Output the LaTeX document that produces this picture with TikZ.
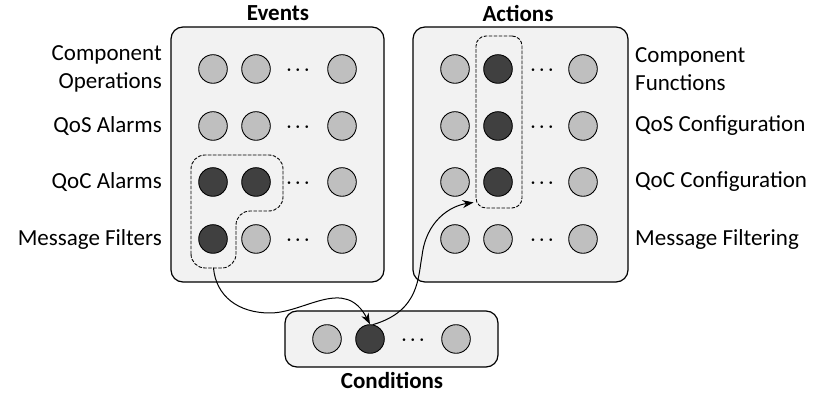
\documentclass[tikz,border=0pt]{standalone}
\usepackage{fontspec}
\setmainfont{Carlito}
\usetikzlibrary{arrows.meta}
\definecolor{boxgray}{HTML}{F2F2F2}
\definecolor{lightdot}{HTML}{BFBFBF}
\definecolor{darkdot}{HTML}{404040}
\begin{document}
\begin{tikzpicture}[x=1pt, y=1pt, line join=round, line cap=round, >={Stealth[length=11pt,width=8pt]},
		font=\fontsize{23}{28}\selectfont,
		panel/.style={draw, rounded corners=12pt, fill=boxgray, line width=1.2pt},
		ball/.style={draw, circle, minimum size=28.6pt, inner sep=0pt, line width=0.9pt},
		dots/.style={inner sep=0pt, yshift=-1.5pt, font=\fontsize{18}{22}\selectfont\boldmath},
		lab/.style={inner sep=0pt, align=left},
		pick/.style={draw, dashed, dash pattern=on 3pt off 2pt, line width=0.9pt, rounded corners=12pt}]
	\useasboundingbox (0,0) rectangle (816,396);
	% the three boxes
	\node[panel, minimum width=213pt, minimum height=255pt] (events) at (277.5,241.5) {};
	\node[panel, minimum width=215pt, minimum height=255pt] (actions) at (520.5,241.5) {};
	\node[panel, minimum width=213pt, minimum height=56pt] (conds) at (391.5,57) {};
	\node[font=\fontsize{23}{28}\selectfont\bfseries] (evtitle) at (278,382.5) {Events};
	\node[font=\fontsize{23}{28}\selectfont\bfseries] (actitle) at (518,382.5) {Actions};
	\node[font=\fontsize{23}{28}\selectfont\bfseries] (cotitle) at (392,15.5) {Conditions};
	% events
	\foreach \r/\yy/\fa/\fb in {1/327/lightdot/lightdot, 2/270/lightdot/lightdot, 3/214/darkdot/darkdot, 4/157/darkdot/lightdot} {
		\node[ball, fill=\fa] (ev\r a) at (213,\yy) {};
		\node[ball, fill=\fb] (ev\r b) at (256,\yy) {};
		\node[dots] (ev\r d) at (298,\yy) {$\cdots$};
		\node[ball, fill=lightdot] (ev\r c) at (342,\yy) {};
	}
	% actions
	\foreach \r/\yy/\fb in {1/327/darkdot, 2/270/darkdot, 3/214/darkdot, 4/157/lightdot} {
		\node[ball, fill=lightdot] (ac\r a) at (455,\yy) {};
		\node[ball, fill=\fb] (ac\r b) at (498,\yy) {};
		\node[dots] (ac\r d) at (542,\yy) {$\cdots$};
		\node[ball, fill=lightdot] (ac\r c) at (583,\yy) {};
	}
	% conditions
	\node[ball, fill=lightdot] (co1) at (327,57) {};
	\node[ball, fill=darkdot] (co2) at (370,57) {};
	\node[dots] (cod) at (413,57) {$\cdots$};
	\node[ball, fill=lightdot] (co3) at (456,57) {};
	% labels
	\node[lab, anchor=east, align=right] (evlab1) at (162,327) {Component\\Operations};
	\node[lab, anchor=east] (evlab2) at (162,270) {QoS Alarms};
	\node[lab, anchor=east] (evlab3) at (162,214) {QoC Alarms};
	\node[lab, anchor=east] (evlab4) at (162,157) {Message Filters};
	\node[lab, anchor=west] (aclab1) at (635,327) {Component\\Functions};
	\node[lab, anchor=west] (aclab2) at (635,270) {QoS Configuration};
	\node[lab, anchor=west] (aclab3) at (635,214) {QoC Configuration};
	\node[lab, anchor=west] (aclab4) at (635,157) {Message Filtering};
	% selections
	\draw[pick, rounded corners=14pt] (191,128) -- (191,241) -- (283,241) -- (283,185) -- (236,185) -- (236,128) -- cycle;
	\coordinate (lbot) at (213.5,128);
	\node[pick, rounded corners=10pt, minimum width=46pt, minimum height=172pt] (sel) at (499,274) {};
	% links
	\draw[->, line width=1pt] (lbot) .. controls (216,100) and (238,83) .. (270,83) .. controls (305,83) and (345,120) .. (co2.north);
	\draw[->, line width=1pt] (co2.78) .. controls (420,85) and (418,120) .. (422,140) .. controls (426,175) and (450,190) .. ([shift={(-2pt,6pt)}]sel.south west);
\end{tikzpicture}
\end{document}
